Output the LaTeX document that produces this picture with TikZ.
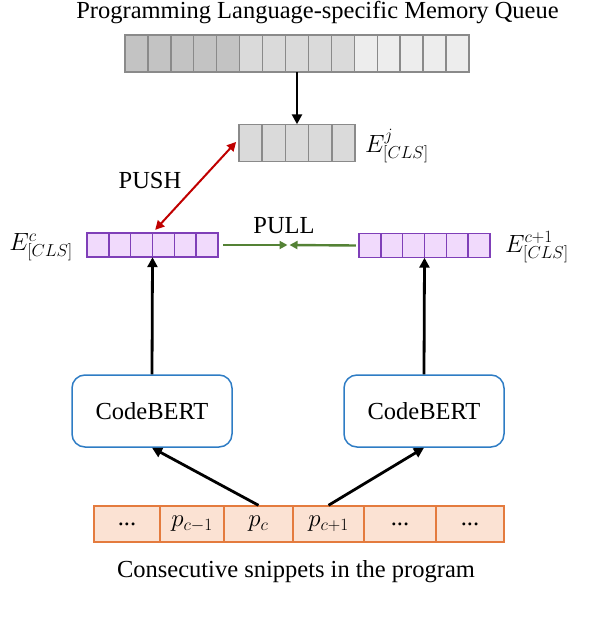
\documentclass[tikz,border=0pt]{standalone}
\usepackage{fontspec}
\setmainfont{Liberation Serif}
\usetikzlibrary{arrows.meta}
\definecolor{qborder}{HTML}{8A8A8A}
\definecolor{qdark}{HTML}{C3C3C3}
\definecolor{qmid}{HTML}{DADADA}
\definecolor{qlight}{HTML}{EDEDED}
\definecolor{pborder}{HTML}{7F3FB8}
\definecolor{pfill}{HTML}{F1DAFC}
\definecolor{oborder}{HTML}{E47B3E}
\definecolor{ofill}{HTML}{FBE2D3}
\definecolor{bborder}{HTML}{2E7CC4}
\definecolor{pushred}{HTML}{C00000}
\definecolor{pullgreen}{HTML}{548235}
\begin{document}
\begin{tikzpicture}[x=1pt,y=-1pt,
  font=\fontsize{24.5}{29}\selectfont,
  qcell/.style={draw=qborder, line width=1.4pt, inner sep=0pt, minimum width=22.93pt, minimum height=37pt},
  pcell/.style={draw=pborder, fill=pfill, line width=1.4pt, inner sep=0pt, minimum width=21.83pt, minimum height=24pt},
  ocell/.style={draw=oborder, fill=ofill, line width=1.4pt, inner sep=0pt, minimum height=36pt},
  frame/.style={inner sep=0pt, draw=none},
  model/.style={draw=bborder, line width=1.5pt, rounded corners=13pt, minimum width=160pt, minimum height=72pt, inner sep=0pt},
  blackarrow/.style={line width=2.8pt, -{Triangle[length=10pt,width=10pt]}},
  pusharrow/.style={draw=pushred, line width=2pt, {Triangle[length=9pt,width=9pt]}-{Triangle[length=9pt,width=9pt]}},
  pullarrow/.style={draw=pullgreen, line width=2.4pt, -{Triangle[length=8pt,width=8pt]}},
  lbl/.style={inner sep=0pt}
]
\useasboundingbox (0,0) rectangle (598,618);

% title
\node[lbl, anchor=base] (title) at (317.5,18.5) {Programming Language-specific Memory Queue};

% memory queue
\foreach \i in {1,...,5} \node[qcell, fill=qdark] (q\i) at ({125+22.93*(\i-0.5)},53.5) {};
\foreach \i in {6,...,10} \node[qcell, fill=qmid] (q\i) at ({125+22.93*(\i-0.5)},53.5) {};
\foreach \i in {11,...,15} \node[qcell, fill=qlight] (q\i) at ({125+22.93*(\i-0.5)},53.5) {};
\node[frame, minimum width=344pt, minimum height=37pt] (q) at (297,53.5) {};

% E^j
\foreach \i in {1,...,5} \node[qcell, fill=qmid] (j\i) at ({239+23.2*(\i-0.5)},143) {};
\node[frame, minimum width=116pt, minimum height=37pt] (ej) at (297,143) {};
\node[lbl, anchor=west] (ejl) at (365,146) {$E^{j}_{[CLS]}$};

% purple embeddings
\foreach \i in {1,...,6} \node[pcell] (c\i) at ({87+21.83*(\i-0.5)},245) {};
\node[frame, minimum width=131pt, minimum height=24pt] (ec) at (152.5,245) {};
\node[lbl, anchor=east] (ecl) at (73,247) {$E^{c}_{[CLS]}$};
\foreach \i in {1,...,6} \node[pcell] (d\i) at ({359+21.83*(\i-0.5)},245.5) {};
\node[frame, minimum width=131pt, minimum height=24pt] (ec1) at (424.5,245.5) {};
\node[lbl, anchor=west] (ec1l) at (505,247) {$E^{c+1}_{[CLS]}$};

% CodeBERT
\node[model] (cb1) at (152,411) {CodeBERT};
\node[model] (cb2) at (424,411) {CodeBERT};

% snippets
\node[ocell, minimum width=66pt] (b1) at (127,524) {...};
\node[ocell, minimum width=64pt] (b2) at (192,524) {$p_{c-1}$};
\node[ocell, minimum width=69pt] (b3) at (258.5,524) {$p_{c}$};
\node[ocell, minimum width=71pt] (b4) at (328.5,524) {$p_{c+1}$};
\node[ocell, minimum width=72pt] (b5) at (400,524) {...};
\node[ocell, minimum width=68pt] (b6) at (470,524) {...};
\node[lbl, anchor=base] (cap) at (296,577) {Consecutive snippets in the program};

% connectors
\draw[blackarrow] (q.south) -- (ej.north);
\draw[pusharrow, shorten <=4pt, shorten >=4pt] (ec.north) -- (ej.west |- 0,139);
\node[lbl, anchor=base] (push) at (150,188) {PUSH};

\coordinate (mid) at (288.5,245);
\draw[pullarrow] ([xshift=5pt]ec.east) -- ([xshift=-1pt]mid);
\draw[pullarrow] ([xshift=-3pt]ec1.west) -- ([xshift=1pt]mid);
\node[lbl, anchor=base] (pull) at (284,233) {PULL};

\draw[blackarrow] (cb1.north) -- (ec.south);
\draw[blackarrow] (cb2.north) -- (ec1.south);
\draw[blackarrow] (b3.north) -- (cb1.south);
\draw[blackarrow] (b4.north) -- (cb2.south);
\end{tikzpicture}
\end{document}
